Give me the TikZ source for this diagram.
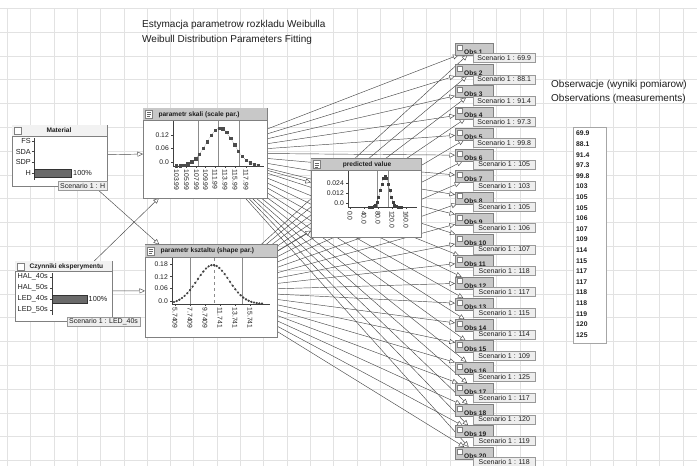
\documentclass[tikz,border=0pt]{standalone}
\usepackage{fontspec}
\setmainfont{Liberation Sans}
\usetikzlibrary{arrows.meta,plotmarks}
\pgfdeclarelayer{gridlayer}
\pgfdeclarelayer{edgelayer}
\pgfsetlayers{gridlayer,edgelayer,main}
\definecolor{gridc}{HTML}{E2E2E2}
\definecolor{boxc}{HTML}{808080}
\definecolor{barc}{HTML}{C8C8C8}
\definecolor{edgec}{HTML}{4A4A4A}
\definecolor{scenc}{HTML}{EEEEEE}
\definecolor{darkbar}{HTML}{6A6A6A}
\definecolor{txtc}{HTML}{1E1E1E}
\newcommand\ftitle{\fontsize{10}{12}\selectfont}
\newcommand\fhead{\fontsize{6.6}{7}\selectfont\bfseries}
\newcommand\frow{\fontsize{7.3}{8}\selectfont}
\newcommand\fscen{\fontsize{7}{8}\selectfont}
\newcommand\ftick{\fontsize{6.8}{7}\selectfont}
\newcommand\fval{\fontsize{6.8}{7}\selectfont\bfseries}
\begin{document}
\begin{tikzpicture}[x=1pt,y=-1pt,
  every node/.style={text=txtc},
  panel/.style={draw=boxc, fill=white, line width=0.8pt, inner sep=0pt, outer sep=0pt, anchor=north west},
  obsbox/.style={draw=boxc, fill=barc, line width=0.5pt, inner sep=0pt, outer sep=0pt, anchor=north west, minimum width=38pt, minimum height=12pt},
  scen/.style={draw=boxc!80, fill=scenc, line width=0.4pt, inner xsep=2pt, inner ysep=0pt, minimum height=9pt, anchor=north west, font=\fscen},
  iconbox/.style={draw=boxc, fill=white, line width=0.4pt},
  edge/.style={draw=edgec, line width=0.45pt, -{Triangle[length=5.5pt, width=5pt, fill=white]}},
  axisl/.style={draw=black!75, line width=0.5pt},
  vgrid/.style={draw=black!45, line width=0.4pt},
  curve/.style={draw=black!75, line width=0.4pt},
  ylab/.style={anchor=east, font=\ftick, inner sep=0.5pt},
  xlab/.style={anchor=west, rotate=-90, font=\ftick, inner sep=0.5pt},
  rowlab/.style={font=\frow, inner sep=0.5pt}
]
\useasboundingbox (0,0) rectangle (697,466);
\begin{pgfonlayer}{gridlayer}
\fill[white] (0,0) rectangle (697,466);
\foreach \k in {0,...,29} \draw[gridc, line width=0.5pt] ({7.3+23.3*\k},8.3) -- ({7.3+23.3*\k},466);
\foreach \k in {0,...,19} \draw[gridc, line width=0.5pt] (0,{8.3+23.8*\k}) -- (697,{8.3+23.8*\k});
\end{pgfonlayer}

% titles
\node[anchor=west, font=\ftitle, inner sep=0] (t1) at (142,25) {Estymacja parametrow rozkladu Weibulla};
\node[anchor=west, font=\ftitle, inner sep=0] (t2) at (142,40) {Weibull Distribution Parameters Fitting};
\node[anchor=west, font=\ftitle, inner sep=0] (l1) at (551,85) {Obserwacje (wyniki pomiarow)};
\node[anchor=west, font=\ftitle, inner sep=0] (l2) at (551,99) {Observations (measurements)};

% Material
\node[panel, minimum width=95pt, minimum height=61pt] (mat) at (12,125) {};
\fill[black!5] (12.4,125.4) rectangle (106.6,136);
\draw[boxc, line width=0.5pt] (12,136) -- (107,136);
\draw[iconbox] (14,127) rectangle (21,134);
\node[font=\fhead] (matt) at (59,130.6) {Material};
\draw[axisl] (34,138) -- (34,180);
\foreach \n/\yy in {FS/141, SDA/151.7, SDP/162.3, H/173} {
  \node[rowlab, anchor=east] at (31.5,\yy) {\n};
  \draw[axisl] (31.5,\yy) -- (34,\yy);
}
\draw[black!80, fill=darkbar, line width=0.4pt] (34,169) rectangle (71,177.5);
\node[rowlab, anchor=west] at (72.5,173.3) {100\%};
\node[scen] (mats) at (58,181) {Scenario 1 : H};

% Czynniki
\node[panel, minimum width=97pt, minimum height=60pt] (czyn) at (15,261) {};
\fill[black!5] (15.4,261.4) rectangle (111.6,271.5);
\draw[boxc, line width=0.5pt] (15,271.5) -- (112,271.5);
\draw[iconbox] (17,263) rectangle (24,270);
\node[font=\fhead, anchor=west] (czt) at (26,266.3) {Czynniki eksperymentu};
\draw[axisl] (52,273) -- (52,315);
\foreach \n/\yy in {HAL\_40s/277, HAL\_50s/287.8, LED\_40s/299, LED\_50s/310} {
  \node[rowlab, anchor=west] at (17,\yy) {\n};
  \draw[axisl] (50,\yy) -- (52,\yy);
}
\draw[black!80, fill=darkbar, line width=0.4pt] (52,295) rectangle (87,303);
\node[rowlab, anchor=west] at (88,299.2) {100\%};
\node[scen] (czs) at (67,316.5) {Scenario 1 : LED\_40s};

% parametr skali
\node[panel, minimum width=124pt, minimum height=90pt] (skali) at (143,108) {};
\fill[barc] (143.4,108.4) rectangle (266.6,120);
\draw[boxc, line width=0.5pt] (143,120) -- (267,120);
\draw[iconbox] (145.5,110) rectangle (152.5,118);
\draw[black!60, line width=0.3pt] (147,112.5) -- (151,112.5) (147,114.5) -- (151,114.5) (147,116.5) -- (150,116.5);
\node[font=\fhead, anchor=west] at (155,114.3) {parametr skali (scale par.)};
\foreach \gx in {197.7,217.7,239.3} \draw[vgrid] (\gx,121) -- (\gx,166);
\draw[axisl] (173,121) -- (173,166) -- (264,166);
\foreach \yy/\t in {135/0.12, 148/0.06, 162/0.0} {
  \draw[axisl] (171,\yy) -- (173,\yy);
  \node[ylab] at (169.5,\yy) {\t};
}
\draw[curve, densely dotted] plot[domain=176:258, samples=22, mark=square*, mark size=1.2pt, mark options={solid, fill=black!70, draw=black!70}] (\x, {166-38*exp(-((\x-220)/13.5)^2/2)});
\foreach \xx/\t in {176.5/103.99, 186.5/105.99, 196.5/107.99, 205.5/109.99, 215/111.99, 225/113.99, 235/115.99, 246/117.99} {
  \draw[axisl] (\xx,166) -- (\xx,168);
  \node[xlab] at (\xx,169) {\t};
}

% parametr ksztaltu
\node[panel, minimum width=132pt, minimum height=92.5pt] (kszt) at (145,244.5) {};
\fill[barc] (145.4,244.9) rectangle (276.6,257);
\draw[boxc, line width=0.5pt] (145,257) -- (277,257);
\draw[iconbox] (147,247) rectangle (154,255);
\draw[black!60, line width=0.3pt] (148.5,249.5) -- (152.5,249.5) (148.5,251.5) -- (152.5,251.5) (148.5,253.5) -- (151.5,253.5);
\node[font=\fhead, anchor=west] at (157,250.8) {parametr ksztaltu (shape par.)};
\foreach \gx in {190,242} \draw[vgrid] (\gx,258) -- (\gx,304);
\draw[vgrid, dashed] (214,258) -- (214,304);
\draw[axisl] (172,258) -- (172,304) -- (270,304);
\foreach \yy/\t in {264/0.18, 276.7/0.12, 288.3/0.06, 301/0.0} {
  \draw[axisl] (170,\yy) -- (172,\yy);
  \node[ylab] at (168.5,\yy) {\t};
}
\draw[curve, densely dotted] plot[domain=174:262, samples=34, mark=*, mark size=0.9pt, mark options={solid, fill=black!75, draw=black!75}] (\x, {304-39*exp(-((\x-213)/16)^2/2)});
\foreach \xx/\t in {175/5.7409, 190/7.7409, 205/9.7409, 220/11.741, 235/13.741, 250/15.741} {
  \draw[axisl] (\xx,304) -- (\xx,306);
  \node[xlab] at (\xx,307) {\t};
}

% predicted value
\node[panel, minimum width=110pt, minimum height=78.5pt] (pred) at (311,158.5) {};
\fill[barc] (311.4,158.9) rectangle (420.6,170);
\draw[boxc, line width=0.5pt] (311,170) -- (421,170);
\draw[iconbox] (313,160.5) rectangle (320,168.5);
\draw[black!60, line width=0.3pt] (314.5,163) -- (318.5,163) (314.5,165) -- (318.5,165) (314.5,167) -- (317.5,167);
\node[font=\fhead] at (367,164.4) {predicted value};
\foreach \gx in {376.7,388.3} \draw[vgrid] (\gx,171) -- (\gx,207.3);
\draw[axisl] (348,171) -- (348,207.3) -- (417,207.3);
\foreach \yy/\t in {183.3/0.024, 193/0.012, 203/0.0} {
  \draw[axisl] (346,\yy) -- (348,\yy);
  \node[ylab] at (344.5,\yy) {\t};
}
\draw[curve, densely dotted] plot[domain=369:401, samples=21, mark=square*, mark size=1pt, mark options={solid, fill=black!75, draw=black!75}] (\x, {207.3-31*exp(-((\x-385)/4.3)^2/2)});
\foreach \xx/\t in {350/0.0, 364/40.0, 378/80.0, 392/120.0, 406/160.0} {
  \draw[axisl] (\xx,207.3) -- (\xx,209.3);
  \node[xlab] at (\xx,210.5) {\t};
}

% observation nodes
\foreach \i/\v [evaluate=\i as \yy using 43+(\i-1)*21.26] in {1/69.9, 2/88.1, 3/91.4, 4/97.3, 5/99.8, 6/105, 7/103, 8/105, 9/106, 10/107, 11/118, 12/117, 13/115, 14/114, 15/109, 16/125, 17/117, 18/120, 19/119, 20/118} {
  \node[obsbox] (o\i) at (455,\yy) {};
  \draw[iconbox] (457,\yy+1.8) rectangle (462,\yy+6.8);
  \node[anchor=base west, font=\fhead, inner sep=0] at (464,\yy+11.2) {Obs \i};
  \node[scen, minimum width=62pt] (s\i) at (473,\yy+10.3) {Scenario 1 : \v};
}

% measured values list
\node[draw=black!35, fill=white, line width=0.5pt, anchor=north west, minimum width=33pt, minimum height=216pt, inner sep=0] (vals) at (573,127) {};
\foreach \v [count=\k from 0] in {69.9, 88.1, 91.4, 97.3, 99.8, 103, 105, 105, 106, 107, 109, 114, 115, 117, 117, 118, 118, 119, 120, 125} {
  \node[anchor=west, font=\fval, inner sep=0] at (576,{133.5+10.6*\k}) {\v};
}

% connectors
\begin{pgfonlayer}{edgelayer}
\foreach \i in {1,...,20} {
  \draw[edge] (skali) -- (o\i);
  \draw[edge] (kszt) -- (o\i);
}
\draw[edge] (skali) -- (pred);
\draw[edge] (kszt) -- (pred);
\draw[edge] (mat) -- (skali);
\draw[edge] (mat) -- (kszt);
\draw[edge] (czyn) -- (skali);
\draw[edge] (czyn) -- (kszt);
\end{pgfonlayer}
\end{tikzpicture}
\end{document}
